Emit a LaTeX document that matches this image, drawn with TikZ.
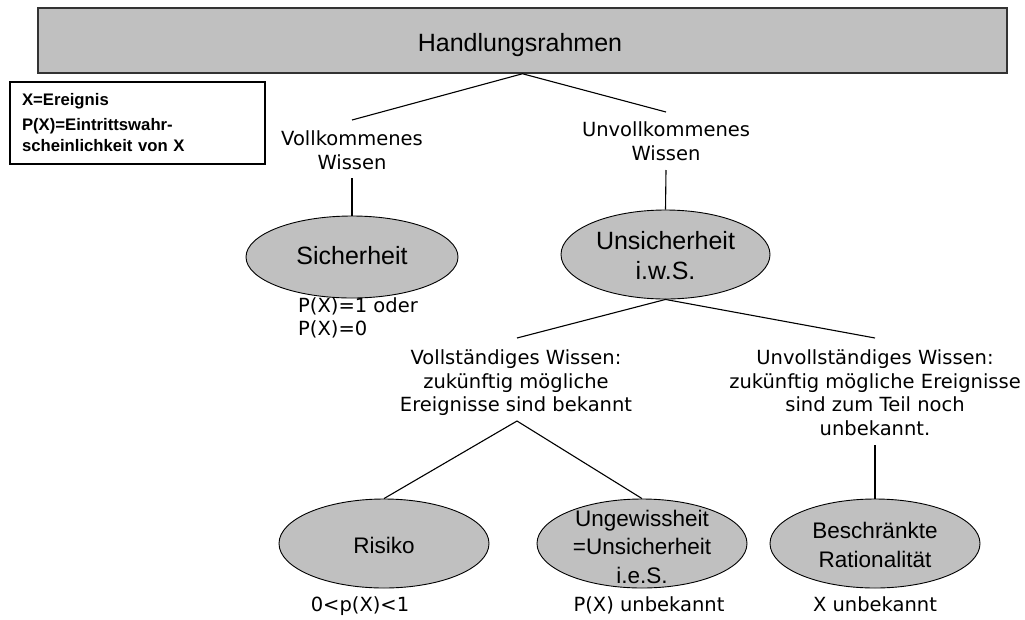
\documentclass[tikz,border=0pt]{standalone}
\usepackage{fontspec}
\setmainfont{Liberation Sans}
\newfontfamily\verdanalike{DejaVu Sans}
\usetikzlibrary{shapes.geometric}
\definecolor{boxgray}{RGB}{192,192,192}

\begin{document}
\begin{tikzpicture}[x=1pt,y=-1pt,
  conn/.style={draw=black,line width=1.1pt},
  oval/.style={ellipse,draw=black,fill=boxgray,line width=0.9pt,inner sep=0pt,
               minimum width=210pt,minimum height=89pt},
  ovaltext/.style={align=center,inner sep=0pt,font=\fontsize{22.5}{28.5}\selectfont},
  bigtext/.style={align=center,inner sep=0pt,font=\fontsize{25}{30}\selectfont},
  note/.style={align=center,inner sep=0pt,font=\verdanalike\fontsize{19.5}{23.7}\selectfont},
]
\useasboundingbox (0,0) rectangle (1025,619);

% header bar
\node[draw=black!80,fill=boxgray,line width=1.5pt,minimum width=969pt,
      minimum height=65pt,inner sep=0pt] (frame) at (522.5,40.5) {};
\node[anchor=base,inner sep=0pt,font=\fontsize{25}{30}\selectfont] (frametitle)
      at (520,51) {Handlungsrahmen};

% legend
\node[draw=black,line width=1.2pt,text width=231pt,inner xsep=12pt,inner ysep=0pt,
      minimum height=82pt,align=left,font=\bfseries\fontsize{16.7}{21}\selectfont]
      (legend) at (137.5,123)
      {X=Ereignis\\[4pt]P(X)=Eintrittswahr-\\scheinlichkeit von X};

% first level
\node[note] (vk) at (352,150.1) {Vollkommenes\\Wissen};
\node[note] (uvk) at (666,141.1) {Unvollkommenes\\Wissen};

\node[oval,minimum width=212pt,minimum height=82pt] (sich) at (352,257) {};
\node[bigtext] (sichtext) at (352,256) {Sicherheit};
\node[oval,minimum width=209pt] (unsich) at (665.5,254.5) {};
\node[bigtext] (unsichtext) at (665.5,256) {Unsicherheit\\i.w.S.};

\node[note,align=left,anchor=north west] (sichval) at (298,297.2) {P(X)=1 oder\\P(X)=0};

% second level
\node[note] (vw) at (516,382.9) {Vollständiges Wissen:\\zukünftig mögliche\\Ereignisse sind bekannt};
\node[note] (uvw) at (875,392.6) {Unvollständiges Wissen:\\zukünftig mögliche Ereignisse\\sind zum Teil noch\\unbekannt.};

\node[oval] (risiko) at (384,543.5) {};
\node[ovaltext] (risikotext) at (384,545) {Risiko};
\node[oval] (ungew) at (642,543.5) {};
\node[ovaltext] (ungewtext) at (642,546.5) {Ungewissheit\\=Unsicherheit\\i.e.S.};
\node[oval] (beschr) at (875,543.5) {};
\node[ovaltext] (beschrtext) at (875,545) {Beschränkte\\Rationalität};

\node[note,anchor=base] (risikoval) at (360,611) {0<p(X)<1};
\node[note,anchor=base] (ungewval) at (649,611) {P(X) unbekannt};
\node[note,anchor=base] (beschrval) at (875,611) {X unbekannt};

% line ends next to the text labels
\coordinate (vkin) at (352,120);
\coordinate (uvkin) at (666,112);
\coordinate (vkout) at (352,178);
\coordinate (uvkout) at (666,170);
\coordinate (vwin) at (517,338);
\coordinate (uvwin) at (875,338);
\coordinate (vwout) at (517,421);
\coordinate (uvwout) at (875,445);

% connectors
\draw[conn] (vkin) -- (frame.south) -- (uvkin);
\draw[conn] (vkout) -- (sich.north);
\draw[conn] (uvkout) -- (unsich.north);
\draw[conn] (vwin) -- (unsich.south) -- (uvwin);
\draw[conn] (risiko.north) -- (vwout) -- (ungew.north);
\draw[conn] (uvwout) -- (beschr.north);
\end{tikzpicture}
\end{document}
